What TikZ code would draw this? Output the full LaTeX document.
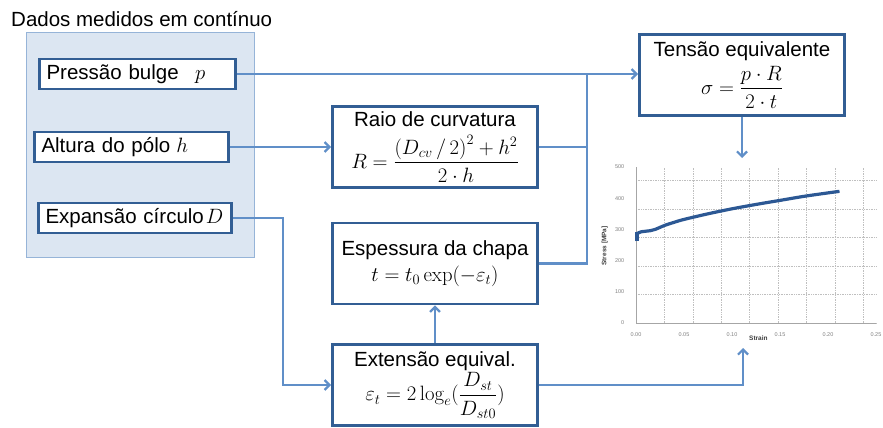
\documentclass[tikz,border=0pt]{standalone}
\usepackage[no-math]{fontspec}
\setmainfont{Liberation Sans}
\usepackage{amsmath}
\usepackage{xcolor}
\usetikzlibrary{arrows.meta,positioning,calc}

\definecolor{boxline}{RGB}{50,94,148}
\definecolor{linkblue}{RGB}{96,143,200}
\definecolor{panelfill}{RGB}{220,230,242}
\definecolor{panelline}{RGB}{150,180,216}
\definecolor{curveblue}{RGB}{44,88,148}

\begin{document}
\begin{tikzpicture}[x=1pt, y=-1pt, font=\fontsize{20.5}{23}\selectfont]
% Define styles
\tikzstyle{block} = [rectangle, draw=boxline, line width=2.8pt, fill=white, minimum width=205pt, minimum height=81pt, align=center, inner sep=1pt]
\tikzstyle{inputbox} = [rectangle, draw=boxline, line width=2.8pt, fill=white, minimum height=30pt, inner xsep=7pt, inner ysep=2pt, align=left]
\tikzstyle{panel} = [rectangle, draw=panelline, line width=1pt, fill=panelfill, minimum width=228pt, minimum height=225pt]
\tikzstyle{arrow} = [linkblue, line width=2.2pt, -{Straight Barb[length=5pt,width=10pt]}]
\tikzstyle{link} = [linkblue, line width=2.2pt]
\tikzstyle{ticklab} = [gray, font=\fontsize{5.5}{6}\selectfont, inner sep=1pt]
\tikzstyle{axlab} = [black!75, font=\fontsize{6.5}{7}\selectfont\bfseries, inner sep=1pt]

\useasboundingbox (0,0) rectangle (883,428);

% Measured data
\node[panel] (dados) at (140.5,145) {};
\node[anchor=west, inner sep=0pt] (titulo) at (11,19) {Dados medidos em contínuo};
\node[inputbox, text width=182pt] (pbox) at (137.5,74) {Pressão bulge\hspace{0.8em}$p$};
\node[inputbox, text width=180pt] (hbox) at (131.5,147) {Altura do pólo\hspace{0.3em}$h$};
\node[inputbox, text width=179pt] (Dbox) at (135,218) {Expansão círculo\hspace{0.1em}$D$};

% Calculations
\node[block] (raio) at (435,147) {Raio de curvatura\\[7pt] $\displaystyle R=\frac{\left(D_{cv}\,/\,2\right)^2+h^2}{2\cdot h}$};
\node[block] (esp) at (435,263.5) {Espessura da chapa\\[3pt] $t=t_0\exp(-\varepsilon_t)$};
\node[block] (ext) at (435,385) {Extensão equival.\\[1pt] $\displaystyle \varepsilon_t=2\log_e(\frac{D_{st}}{D_{st0}})$};
\node[block] (tensao) at (742,75) {Tensão equivalente\\[4pt] $\displaystyle \sigma=\frac{p\cdot R}{2\cdot t}$};

% Stress-strain curve
\begin{scope}[shift={(636,323)}, x=48pt, y=31.2pt]
  \draw[gray!50, densely dotted, line width=0.7pt] (0,0) grid (5,5);
  \draw[gray!70, line width=0.7pt] (0,5) -- (0,0) -- (5,0);
  \foreach \i/\lab in {0/0.00,1/0.05,2/0.10,3/0.15,4/0.20,5/0.25}
    \node[ticklab] (xt\i) at (\i,-0.38) {\lab};
  \foreach \j/\lab in {0/0,1/100,2/200,3/300,4/400,5/500}
    \node[ticklab, anchor=east] (yt\j) at (-0.22,\j) {\lab};
  \node[axlab] (strainlab) at (2.55,-0.48) {Strain};
  \node[axlab, rotate=90] (stresslab) at (-0.65,2.47) {Stress [MPa]};
  \draw[curveblue, line width=3.2pt] (0.02,2.62) -- (0.02,2.92);
  \draw[curveblue, line width=3.2pt, line join=round] plot[smooth] coordinates {(0.02,2.86) (0.1,2.92) (0.3,2.96) (0.4,3.0) (0.6,3.13) (0.8,3.23) (1,3.32) (1.5,3.50) (2,3.66) (2.5,3.80) (3,3.93) (3.5,4.06) (4,4.17) (4.24,4.22)};
\end{scope}
\coordinate (graftopo) at (742,158);
\coordinate (grafbase) at (743,348);

% Connections
\coordinate (juncao) at (587,74);
\coordinate (desvio) at (283,0);
\draw[arrow] (pbox.east) -- (pbox.east -| tensao.west);
\draw[link] (raio.east) -- (raio.east -| juncao);
\draw[link] (esp.east) -| (juncao);
\draw[arrow] (hbox.east) -- (hbox.east -| raio.west);
\draw[arrow] (Dbox.east) -| (desvio |- ext.west) -- (ext.west);
\draw[arrow] (ext.north) -- (esp.south);
\draw[arrow] (ext.east) -| (grafbase);
\draw[arrow] (tensao.south) -- (graftopo);

\end{tikzpicture}
\end{document}
